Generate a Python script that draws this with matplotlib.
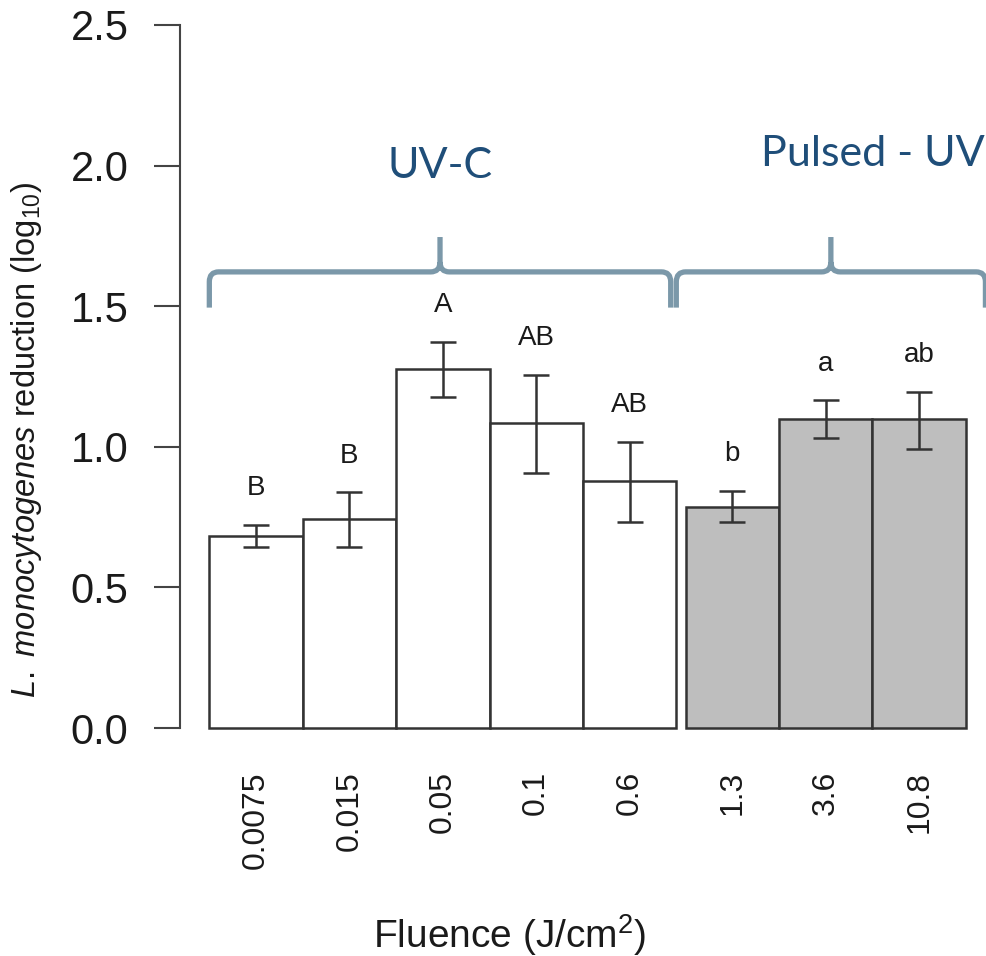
import numpy as np
import matplotlib
matplotlib.use("Agg")
import matplotlib.pyplot as plt
from matplotlib.path import Path
from matplotlib.patches import PathPatch

plt.rcParams['font.family'] = ['Liberation Sans', 'DejaVu Sans']
plt.rcParams['mathtext.fontset'] = 'custom'
plt.rcParams['mathtext.rm'] = 'Liberation Sans'
plt.rcParams['mathtext.it'] = 'Liberation Sans:italic'

# ---- data ----
uvc_labels = ['0.0075', '0.015', '0.05', '0.1', '0.6']
uvc_means = [0.683, 0.742, 1.276, 1.083, 0.878]
uvc_upper = [0.722, 0.839, 1.374, 1.257, 1.018]
uvc_lower = [0.645, 0.645, 1.178, 0.906, 0.734]
uvc_letters = ['B', 'B', 'A', 'AB', 'AB']

pul_labels = ['1.3', '3.6', '10.8']
pul_means = [0.787, 1.098, 1.098]
pul_upper = [0.843, 1.166, 1.196]
pul_lower = [0.731, 1.030, 0.991]
pul_letters = ['b', 'a', 'ab']

group_names = ['UV-C', 'Pulsed - UV']
y_ticks = [0.0, 0.5, 1.0, 1.5, 2.0, 2.5]

W, H = 986, 956
fig = plt.figure(figsize=(W / 100, H / 100), dpi=100)
ax = fig.add_axes([180 / W, (H - 728) / H, (W - 180) / W, (728 - 25) / H])

gap = 0.1
x_uvc = np.arange(len(uvc_means), dtype=float)
x_pul = len(uvc_means) + gap + np.arange(len(pul_means), dtype=float)

edge = '#333333'
ax.bar(x_uvc, uvc_means, width=1.0, color='white', edgecolor=edge, linewidth=1.8, clip_on=False, zorder=2)
ax.bar(x_pul, pul_means, width=1.0, color='#bebebe', edgecolor=edge, linewidth=1.8, clip_on=False, zorder=2)

for xs, m, up, lo, let in [(x_uvc, uvc_means, uvc_upper, uvc_lower, uvc_letters),
                           (x_pul, pul_means, pul_upper, pul_lower, pul_letters)]:
    m = np.array(m); up = np.array(up); lo = np.array(lo)
    ax.errorbar(xs, m, yerr=[m - lo, up - m], fmt='none', ecolor=edge, elinewidth=1.8,
                capsize=9.5, capthick=1.8, zorder=3)
    for xi, u, t in zip(xs, up, let):
        ax.text(xi, u + 0.105, t, ha='center', va='baseline', fontsize=20, color='#1a1a1a')

ax.set_xlim(-0.814, 7.816)
ax.set_ylim(0, 2.5)
ax.set_yticks(y_ticks)
ax.set_yticklabels([f'{v:.1f}' for v in y_ticks])
ax.tick_params(axis='y', length=19, width=1.5, color='#444444', labelsize=30, pad=18, labelcolor='#1a1a1a')
ax.set_xticks(np.concatenate([x_uvc, x_pul]))
ax.set_xticklabels(uvc_labels + pul_labels, rotation=90, fontsize=23, color='#1a1a1a')
ax.tick_params(axis='x', length=0, pad=31)
for s in ['top', 'right', 'bottom']:
    ax.spines[s].set_visible(False)
ax.spines['left'].set_color('#444444')
ax.spines['left'].set_linewidth(1.5)
ax.patch.set_visible(False)

# ---- group braces ----
brace_col = '#7b98a9'
y_h, y_end, y_peak = 1.622, 1.495, 1.746
rx, ry = 0.10, 0.035


def brace(x0, x1):
    xm = (x0 + x1) / 2
    verts = [(x0, y_end), (x0, y_h - ry), (x0, y_h), (x0 + rx, y_h),
             (xm - rx, y_h), (xm, y_h), (xm, y_h + ry), (xm, y_peak),
             (xm, y_h + ry), (xm, y_h), (xm + rx, y_h),
             (x1 - rx, y_h), (x1, y_h), (x1, y_h - ry), (x1, y_end)]
    codes = [Path.MOVETO, Path.LINETO, Path.CURVE3, Path.CURVE3,
             Path.LINETO, Path.CURVE3, Path.CURVE3, Path.LINETO,
             Path.MOVETO, Path.CURVE3, Path.CURVE3,
             Path.LINETO, Path.CURVE3, Path.CURVE3, Path.LINETO]
    p = PathPatch(Path(verts, codes), facecolor='none', edgecolor=brace_col, lw=3.8,
                  capstyle='butt', joinstyle='round', clip_on=False, zorder=4)
    ax.add_patch(p)
    return xm

xm1 = brace(x_uvc[0] - 0.5, x_uvc[-1] + 0.44)
xm2 = brace(x_pul[0] - 0.6, x_pul[-1] + 0.71)

ax.text(xm1, 2.0, group_names[0], ha='center', va='center', fontsize=31,
        color='#1f4e79', family=['Lato', 'DejaVu Sans'])
ax.text(x_pul[1] + 0.5, 2.04, group_names[1], ha='center', va='center', fontsize=31,
        color='#1f4e79', family=['Lato', 'DejaVu Sans'], clip_on=False)

fig.text(27 / W, 1 - 440 / H, r'$\mathit{L.\ monocytogenes}$ reduction (log$_{10}$)',
         rotation=90, ha='center', va='center', fontsize=23.5, color='#1a1a1a')
fig.text(510 / W, 1 - 935 / H, r'Fluence (J/cm$^{2}$)', ha='center', va='center',
         fontsize=28, color='#1a1a1a')

fig.savefig('out.png', dpi=100)
